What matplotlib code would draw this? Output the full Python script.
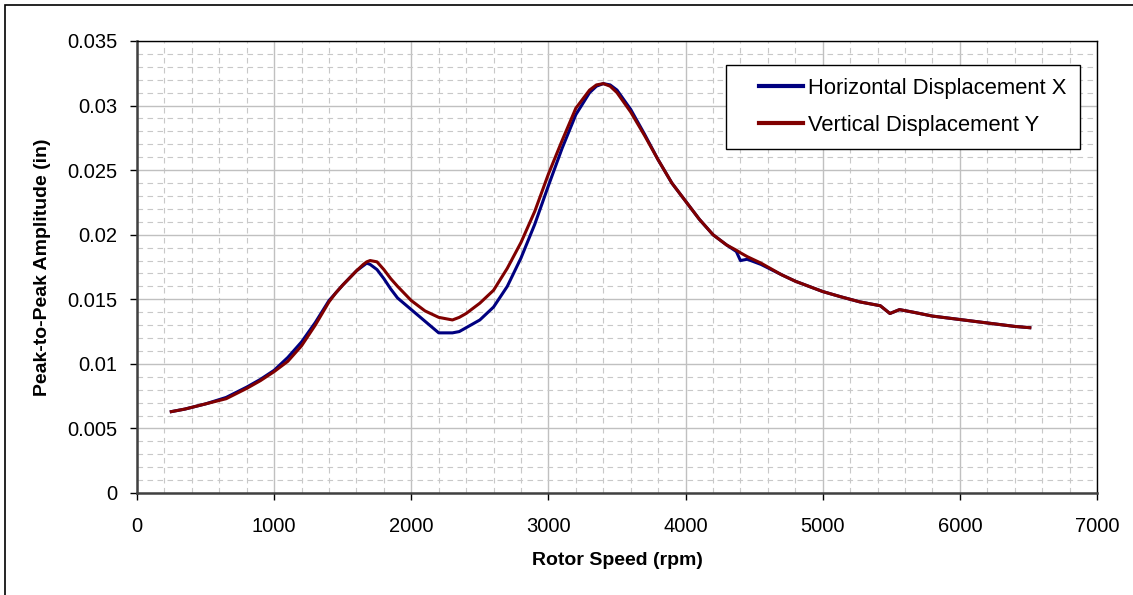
import matplotlib
matplotlib.use("Agg")
import matplotlib.pyplot as plt
from matplotlib.patches import Rectangle
from matplotlib.lines import Line2D
from matplotlib.legend_handler import HandlerLine2D
from matplotlib.ticker import MultipleLocator, FuncFormatter

# rotor speed (rpm) and peak-to-peak amplitude (in)
speed = [250, 350, 500, 650, 800, 900, 1000, 1100, 1200, 1300, 1400, 1450,
         1500, 1600, 1650, 1675, 1700, 1750, 1800, 1850, 1900, 2000, 2100,
         2200, 2300, 2350, 2400, 2500, 2600, 2700, 2800, 2900, 3000, 3100,
         3200, 3300, 3350, 3400, 3450, 3500, 3600, 3700, 3800, 3900, 4000,
         4100, 4200, 4300, 4370, 4400, 4450, 4550, 4700, 4800, 4900, 5000,
         5130, 5270, 5420, 5490, 5560, 5660, 5800, 5950, 6100, 6250, 6400,
         6510]
horiz_x = [0.0063, 0.0065, 0.0069, 0.0074, 0.0082, 0.0088, 0.0095, 0.0105,
           0.0117, 0.0132, 0.0149, 0.0155, 0.0161, 0.0172, 0.0176, 0.0178,
           0.0177, 0.0173, 0.0166, 0.0158, 0.0151, 0.0142, 0.0133, 0.0124,
           0.0124, 0.0125, 0.0128, 0.0134, 0.0144, 0.0160, 0.0182, 0.0208,
           0.0238, 0.0267, 0.0293, 0.0310, 0.0315, 0.0317, 0.0316, 0.0312,
           0.0297, 0.0278, 0.0258, 0.0240, 0.0226, 0.0212, 0.0200, 0.0192,
           0.0187, 0.0180, 0.0181, 0.0177, 0.0169, 0.0164, 0.0160, 0.0156,
           0.0152, 0.0148, 0.0145, 0.0139, 0.0142, 0.0140, 0.0137, 0.0135,
           0.0133, 0.0131, 0.0129, 0.0128]
vert_y = [0.0063, 0.0065, 0.0069, 0.0073, 0.0081, 0.0087, 0.0094, 0.0102,
          0.0114, 0.0130, 0.0148, 0.0155, 0.0161, 0.0172, 0.0177, 0.0179,
          0.0180, 0.0179, 0.0173, 0.0166, 0.0160, 0.0149, 0.0141, 0.0136,
          0.0134, 0.0136, 0.0139, 0.0147, 0.0157, 0.0174, 0.0194, 0.0218,
          0.0247, 0.0273, 0.0298, 0.0312, 0.0316, 0.0317, 0.0315, 0.0310,
          0.0295, 0.0277, 0.0258, 0.0240, 0.0226, 0.0212, 0.0200, 0.0192,
          0.0188, 0.0186, 0.0183, 0.0178, 0.0169, 0.0164, 0.0160, 0.0156,
          0.0152, 0.0148, 0.0145, 0.0139, 0.0142, 0.0140, 0.0137, 0.0135,
          0.0133, 0.0131, 0.0129, 0.0128]

plt.rcParams["font.family"] = ["Liberation Sans", "DejaVu Sans"]

fig = plt.figure(figsize=(11.33, 5.95), dpi=100)
ax = fig.add_axes([137 / 1133, 1 - 493 / 595, 960 / 1133, 452 / 595])

# outer chart border, cut off at the right and bottom like the original
fig.patches.append(Rectangle((5, -20), 1200, 610, transform=None, fill=False,
                             edgecolor="black", linewidth=1.2))

ax.plot(speed, horiz_x, color="#000080", linewidth=2.2,
        solid_joinstyle="round", label="Horizontal Displacement X")
ax.plot(speed, vert_y, color="#800000", linewidth=2.2,
        solid_joinstyle="round", label="Vertical Displacement Y")

ax.set_xlim(0, 7000)
ax.set_ylim(0, 0.035)
ax.xaxis.set_major_locator(MultipleLocator(1000))
ax.xaxis.set_minor_locator(MultipleLocator(200))
ax.yaxis.set_major_locator(MultipleLocator(0.005))
ax.yaxis.set_minor_locator(MultipleLocator(0.001))
ax.yaxis.set_major_formatter(FuncFormatter(lambda v, p: "%g" % round(v, 3)))

ax.grid(which="major", color="#c0c0c0", linewidth=1.0, linestyle="-")
ax.grid(which="minor", color="#c8c8c8", linewidth=0.8, linestyle=(0, (5, 4)))
ax.set_axisbelow(True)

ax.tick_params(which="major", direction="out", length=5, width=1,
               labelsize=14.5, color="black")
ax.tick_params(axis="x", pad=12)
ax.tick_params(axis="y", pad=9)
ax.tick_params(which="minor", length=0)

for side in ["top", "right"]:
    ax.spines[side].set_color("black")
    ax.spines[side].set_linewidth(1.0)
for side in ["left", "bottom"]:
    ax.spines[side].set_color("#404040")
    ax.spines[side].set_linewidth(1.8)

ax.set_xlabel("Rotor Speed (rpm)", fontsize=14, fontweight="bold", labelpad=12)
ax.set_ylabel("Peak-to-Peak Amplitude (in)", fontsize=14, fontweight="bold",
              labelpad=12)

leg = ax.legend(loc="upper right", bbox_to_anchor=(0.9823, 0.9469),
                borderaxespad=0, fontsize=15.8, fancybox=False,
                edgecolor="black", framealpha=1, handlelength=2.9,
                borderpad=0.6, labelspacing=0.7, handletextpad=0.25,
                handler_map={Line2D: HandlerLine2D(xpad=0.88)})
leg.get_frame().set_linewidth(1.0)
for h in leg.get_lines():
    h.set_linewidth(3)

fig.savefig("out.png", dpi=100)
